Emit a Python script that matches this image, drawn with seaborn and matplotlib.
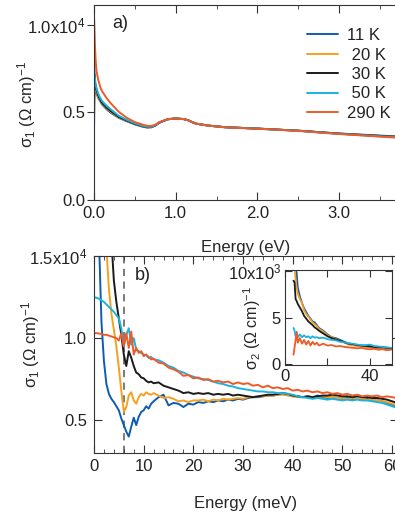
import numpy as np
import pandas as pd
import seaborn as sns
import matplotlib.pyplot as plt
from matplotlib.ticker import MultipleLocator, FixedLocator, FixedFormatter

sns.set_style('ticks')
plt.rcParams['font.family'] = ['Liberation Sans', 'DejaVu Sans']
plt.rcParams['mathtext.fontset'] = 'custom'
plt.rcParams['mathtext.rm'] = 'Liberation Sans'
plt.rcParams['mathtext.default'] = 'regular'
plt.rcParams['font.size'] = 12
plt.rcParams['text.color'] = '#222222'
plt.rcParams['axes.edgecolor'] = '#333333'
plt.rcParams['xtick.color'] = '#333333'
plt.rcParams['ytick.color'] = '#333333'
plt.rcParams['xtick.labelcolor'] = '#222222'
plt.rcParams['ytick.labelcolor'] = '#222222'

temps = ['11 K', '20 K', '30 K', '50 K', '290 K']
colors = {'11 K': '#0e5cb0', '20 K': '#f5a021', '30 K': '#1a1a1a', '50 K': '#1cb2e0', '290 K': '#f05a28'}
legend_labels = ['11 K', ' 20 K', ' 30 K', ' 50 K', '290 K']

# panel a) sigma_1 over wide range, units of 1e4 (Ohm cm)^-1
e_ev = [0.0, 0.005, 0.01, 0.02, 0.03, 0.05, 0.08, 0.1, 0.15, 0.2, 0.3, 0.4, 0.5, 0.6, 0.65,
        0.7, 0.75, 0.8, 0.9, 1.0, 1.1, 1.15, 1.2, 1.25, 1.4, 1.6, 2.0, 2.5, 3.0, 3.5, 3.75]
s1_a_11 = [0.40, 0.58, 0.64, 0.63, 0.61, 0.585, 0.56, 0.545, 0.52, 0.50, 0.47, 0.45, 0.432, 0.418, 0.414,
           0.415, 0.425, 0.442, 0.461, 0.466, 0.462, 0.456, 0.445, 0.436, 0.425, 0.416, 0.408, 0.396, 0.380, 0.368, 0.362]
s1_a_20 = [0.46, 0.62, 0.66, 0.64, 0.62, 0.59, 0.565, 0.55, 0.525, 0.505, 0.473, 0.452, 0.434, 0.42, 0.415,
           0.416, 0.426, 0.442, 0.461, 0.466, 0.462, 0.456, 0.445, 0.436, 0.425, 0.416, 0.408, 0.396, 0.379, 0.366, 0.360]
s1_a_30 = [0.55, 0.72, 0.68, 0.65, 0.63, 0.60, 0.57, 0.555, 0.53, 0.51, 0.476, 0.454, 0.435, 0.421, 0.416,
           0.417, 0.426, 0.442, 0.461, 0.466, 0.462, 0.456, 0.445, 0.436, 0.425, 0.416, 0.408, 0.396, 0.379, 0.366, 0.360]
s1_a_50 = [1.07, 0.78, 0.70, 0.66, 0.64, 0.61, 0.58, 0.565, 0.54, 0.52, 0.482, 0.458, 0.438, 0.423, 0.418,
           0.418, 0.427, 0.443, 0.461, 0.466, 0.462, 0.456, 0.445, 0.436, 0.425, 0.416, 0.408, 0.395, 0.378, 0.364, 0.358]
s1_a_290 = [1.05, 0.98, 0.90, 0.80, 0.74, 0.69, 0.64, 0.62, 0.585, 0.555, 0.505, 0.47, 0.445, 0.43, 0.424,
            0.423, 0.43, 0.445, 0.462, 0.466, 0.462, 0.456, 0.445, 0.436, 0.425, 0.415, 0.407, 0.395, 0.377, 0.362, 0.355]

# panel b) sigma_1 in far infrared, units of 1e4 (Ohm cm)^-1
e_mev = [0, 0.5, 1, 1.5, 2, 2.5, 3, 3.5, 4, 4.5, 5, 5.5, 6, 6.5, 7, 7.5, 8, 8.5, 9, 9.5, 10, 10.5, 11, 11.5, 12,
         13, 14, 15, 16, 17, 18, 19, 20, 21, 22, 23, 24, 25, 26, 27, 28, 29, 30, 31, 32, 33, 34, 35, 36, 37,
         38, 39, 40, 41, 42, 43, 44, 45, 46, 47, 48, 49, 50, 51, 52, 53, 54, 55, 56, 57, 58, 59, 60, 61]
s1_b_11 = [3.0, 2.2, 1.6, 1.1, 0.86, 0.72, 0.66, 0.63, 0.61, 0.585, 0.56, 0.51, 0.47, 0.43, 0.40, 0.46, 0.515, 0.47,
           0.52, 0.55, 0.56, 0.585, 0.57, 0.60, 0.615,
           0.64, 0.655, 0.59, 0.605, 0.60, 0.58, 0.60, 0.595, 0.61, 0.605, 0.615, 0.61, 0.62, 0.615, 0.625, 0.62,
           0.63, 0.625, 0.635, 0.64, 0.64, 0.645, 0.65, 0.65, 0.655, 0.66, 0.655, 0.65, 0.645, 0.64, 0.645, 0.64,
           0.65, 0.64, 0.635, 0.64, 0.635, 0.63, 0.635, 0.63, 0.63, 0.625, 0.63, 0.62, 0.62, 0.615, 0.605, 0.595, 0.58]
s1_b_20 = [3.5, 3.1, 2.7, 2.3, 1.9, 1.55, 1.3, 1.15, 1.05, 0.95, 0.82, 0.68, 0.55, 0.58, 0.65, 0.67, 0.62, 0.60,
           0.64, 0.66, 0.65, 0.67, 0.66, 0.655, 0.665,
           0.65, 0.635, 0.64, 0.63, 0.615, 0.62, 0.61, 0.62, 0.62, 0.625, 0.615, 0.625, 0.62, 0.63, 0.625, 0.63,
           0.635, 0.63, 0.64, 0.64, 0.645, 0.645, 0.65, 0.65, 0.655, 0.655, 0.65, 0.645, 0.64, 0.64, 0.645, 0.64,
           0.64, 0.645, 0.64, 0.64, 0.635, 0.635, 0.63, 0.635, 0.63, 0.63, 0.625, 0.625, 0.62, 0.615, 0.61, 0.60, 0.59]
s1_b_30 = [4.0, 3.7, 3.4, 3.1, 2.8, 2.4, 2.0, 1.6, 1.35, 1.22, 1.12, 1.02, 0.90, 0.83, 0.92, 0.88, 0.83, 0.79,
           0.78, 0.76, 0.755, 0.74, 0.73, 0.735, 0.725,
           0.73, 0.71, 0.70, 0.69, 0.68, 0.665, 0.67, 0.66, 0.665, 0.66, 0.665, 0.655, 0.66, 0.655, 0.66, 0.65,
           0.655, 0.65, 0.645, 0.64, 0.645, 0.65, 0.655, 0.655, 0.66, 0.665, 0.66, 0.65, 0.645, 0.64, 0.645, 0.64,
           0.645, 0.65, 0.65, 0.655, 0.65, 0.645, 0.645, 0.64, 0.645, 0.64, 0.64, 0.635, 0.635, 0.63, 0.625, 0.615, 0.605]
s1_b_50 = [1.25, 1.245, 1.24, 1.23, 1.22, 1.205, 1.19, 1.175, 1.16, 1.14, 1.12, 1.06, 0.95, 1.02, 1.06, 0.96, 1.0,
           0.93, 0.92, 0.91, 0.90, 0.895, 0.88, 0.885, 0.87,
           0.865, 0.85, 0.83, 0.82, 0.80, 0.79, 0.775, 0.765, 0.755, 0.75, 0.745, 0.735, 0.725, 0.72, 0.71, 0.705,
           0.695, 0.69, 0.685, 0.68, 0.675, 0.675, 0.67, 0.67, 0.665, 0.665, 0.66, 0.655, 0.645, 0.64, 0.635, 0.63,
           0.635, 0.63, 0.625, 0.63, 0.625, 0.62, 0.625, 0.62, 0.625, 0.62, 0.62, 0.615, 0.61, 0.605, 0.595, 0.585, 0.575]
s1_b_290 = [1.03, 1.03, 1.028, 1.025, 1.02, 1.02, 1.015, 1.01, 1.005, 1.0, 0.985, 1.03, 0.95, 1.03, 0.94, 1.04,
            0.90, 0.94, 0.91, 0.92, 0.89, 0.90, 0.885, 0.87, 0.875,
            0.85, 0.845, 0.82, 0.81, 0.795, 0.77, 0.775, 0.755, 0.76, 0.745, 0.75, 0.735, 0.74, 0.73, 0.735, 0.72,
            0.73, 0.72, 0.725, 0.71, 0.715, 0.70, 0.71, 0.695, 0.70, 0.69, 0.695, 0.68, 0.685, 0.675, 0.68, 0.67,
            0.675, 0.665, 0.67, 0.66, 0.665, 0.655, 0.66, 0.65, 0.655, 0.645, 0.65, 0.645, 0.65, 0.64, 0.645, 0.64, 0.635]

# inset: sigma_2, units of 1e3 (Ohm cm)^-1
e_ins = [4.0, 4.5, 5, 5.5, 6, 7, 8, 9, 10, 11, 12, 13, 14, 15, 16, 18, 20, 22, 24, 26, 28, 30, 32, 34, 36, 38, 40,
         42, 44, 46, 48, 50]
s2_11 = [12.0, 11.0, 10.5, 9.8, 8.3, 7.3, 6.6, 6.0, 5.6, 5.2, 4.9, 4.6, 4.5, 4.2, 3.9, 3.6, 3.2, 2.9, 2.8, 2.6, 2.4,
         2.2, 2.1, 2.0, 1.95, 1.9, 1.95, 1.85, 1.8, 1.8, 1.75, 1.7]
s2_20 = [11.5, 10.8, 9.0, 8.2, 7.6, 7.0, 6.6, 5.8, 5.4, 5.1, 4.8, 4.5, 4.3, 4.1, 3.8, 3.5, 3.1, 2.9, 2.7, 2.5, 2.3,
         2.1, 2.0, 1.95, 1.9, 1.85, 1.8, 1.75, 1.7, 1.7, 1.65, 1.65]
s2_30 = [9.0, 8.8, 7.0, 6.8, 6.5, 6.1, 5.7, 5.2, 4.9, 4.6, 4.4, 4.2, 3.95, 3.8, 3.6, 3.3, 3.0, 2.8, 2.65, 2.5, 2.35,
         2.2, 2.15, 2.05, 2.0, 1.95, 1.9, 1.85, 1.8, 1.8, 1.75, 1.7]
s2_50 = [3.9, 3.6, 3.0, 3.3, 2.9, 3.2, 2.9, 3.1, 2.9, 3.0, 2.8, 3.0, 2.85, 2.9, 2.8, 2.85, 2.7, 2.6, 2.55, 2.4, 2.35,
         2.25, 2.2, 2.1, 2.05, 2.05, 2.1, 1.95, 1.9, 1.85, 1.8, 1.75]
s2_290 = [1.0, 1.8, 2.6, 3.5, 2.3, 2.8, 2.2, 2.6, 2.1, 2.5, 2.0, 2.4, 2.1, 2.3, 2.0, 2.2, 2.0, 2.05, 1.9, 1.95, 1.85,
          1.8, 1.75, 1.7, 1.75, 1.65, 1.6, 1.65, 1.55, 1.6, 1.5, 1.55]


def long_df(x, series):
    frames = [pd.DataFrame({'E': x, 's': vals, 'T': t}) for t, vals in zip(temps, series)]
    return pd.concat(frames, ignore_index=True)


df_a = long_df(e_ev, [s1_a_11, s1_a_20, s1_a_30, s1_a_50, s1_a_290])
df_b = long_df(e_mev, [s1_b_11, s1_b_20, s1_b_30, s1_b_50, s1_b_290])
df_i = long_df(e_ins, [s2_11, s2_20, s2_30, s2_50, s2_290])

W, H = 395, 513
fig = plt.figure(figsize=(W / 100, H / 100), dpi=100)


def box(l, t, r, b):
    return [l / W, 1 - b / H, (r - l) / W, (b - t) / H]


ax1 = fig.add_axes(box(94, 5, 398, 200))
ax2 = fig.add_axes(box(94, 256, 398, 453))
ax3 = fig.add_axes(box(285, 270, 392, 365))

lw = 1.4
sns.lineplot(data=df_a, x='E', y='s', hue='T', hue_order=temps, palette=colors, estimator=None,
             sort=False, lw=lw, ax=ax1)
sns.lineplot(data=df_b, x='E', y='s', hue='T', hue_order=temps, palette=colors, estimator=None,
             sort=False, lw=lw, ax=ax2, legend=False)
sns.lineplot(data=df_i, x='E', y='s', hue='T', hue_order=temps, palette=colors, estimator=None,
             sort=False, lw=1.3, ax=ax3, legend=False)

ylab1 = 'σ$_1$ (Ω cm)$^{-1}$'

# panel a
ax1.set_xlim(0, 3.72)
ax1.set_ylim(0, 1.114)
ax1.xaxis.set_major_locator(FixedLocator([0, 1, 2, 3]))
ax1.xaxis.set_major_formatter(FixedFormatter(['0.0', '1.0', '2.0', '3.0']))
ax1.xaxis.set_minor_locator(MultipleLocator(0.5))
ax1.yaxis.set_major_locator(FixedLocator([0, 0.5, 1.0]))
ax1.yaxis.set_major_formatter(FixedFormatter(['0.0', '0.5', '1.0x10$^4$']))
ax1.tick_params(axis='x', which='major', direction='in', length=6, top=True, pad=4)
ax1.tick_params(axis='x', which='minor', direction='in', length=3, top=True)
ax1.tick_params(axis='y', which='major', direction='out', length=5, pad=1)
ax1.tick_params(axis='y', which='major', right=True)
ax1.set_xlabel('Energy (eV)', labelpad=14)
ax1.set_ylabel(ylab1)
ax1.yaxis.set_label_coords(-0.184, 0.49)
ax1.text(0.06, 0.905, 'a)', transform=ax1.transAxes, fontsize=13, va='center')
handles, _ = ax1.get_legend_handles_labels()
ax1.legend(handles, legend_labels, loc='upper left', bbox_to_anchor=(307 / W, 1 - 28 / H),
           bbox_transform=fig.transFigure, frameon=False, borderpad=0, borderaxespad=0,
           handlelength=1.85, handletextpad=0.55, labelspacing=0.27, fontsize=12)

# panel b
ax2.axvline(6, color='#707070', lw=1.3, ls=(0, (4, 3)), zorder=0)
ax2.set_xlim(0, 61.2)
ax2.set_ylim(0.3, 1.5)
ax2.xaxis.set_major_locator(MultipleLocator(10))
ax2.xaxis.set_minor_locator(MultipleLocator(2))
ax2.yaxis.set_major_locator(FixedLocator([0.5, 1.0, 1.5]))
ax2.yaxis.set_major_formatter(FixedFormatter(['0.5', '1.0', '1.5x10$^4$']))
ax2.tick_params(axis='x', which='major', direction='in', length=6, top=True, pad=4)
ax2.tick_params(axis='x', which='minor', direction='in', length=3, top=True)
ax2.tick_params(axis='y', which='major', direction='in', length=6, right=True, pad=5)
ax2.set_xlabel('Energy (meV)', labelpad=16)
ax2.set_ylabel(ylab1)
ax2.yaxis.set_label_coords(-0.171, 0.55)
ax2.text(0.135, 0.9, 'b)', transform=ax2.transAxes, fontsize=13, va='center')

# inset
ax3.set_facecolor('white')
ax3.set_xlim(0, 50.4)
ax3.set_ylim(-0.1, 10.15)
ax3.xaxis.set_major_locator(FixedLocator([0, 20, 40]))
ax3.xaxis.set_major_formatter(FixedFormatter(['0', '', '40']))
ax3.yaxis.set_major_locator(FixedLocator([0, 5, 10]))
ax3.yaxis.set_major_formatter(FixedFormatter(['0', '5', '10x10$^3$']))
ax3.tick_params(axis='both', which='major', direction='in', length=5, top=True, right=True, pad=3)
ax3.set_xlabel('')
ax3.set_ylabel('σ$_2$ (Ω cm)$^{-1}$', fontsize=11.5)
ax3.yaxis.set_label_coords(-0.205, 0.39)

plt.savefig('out.png', dpi=100)
